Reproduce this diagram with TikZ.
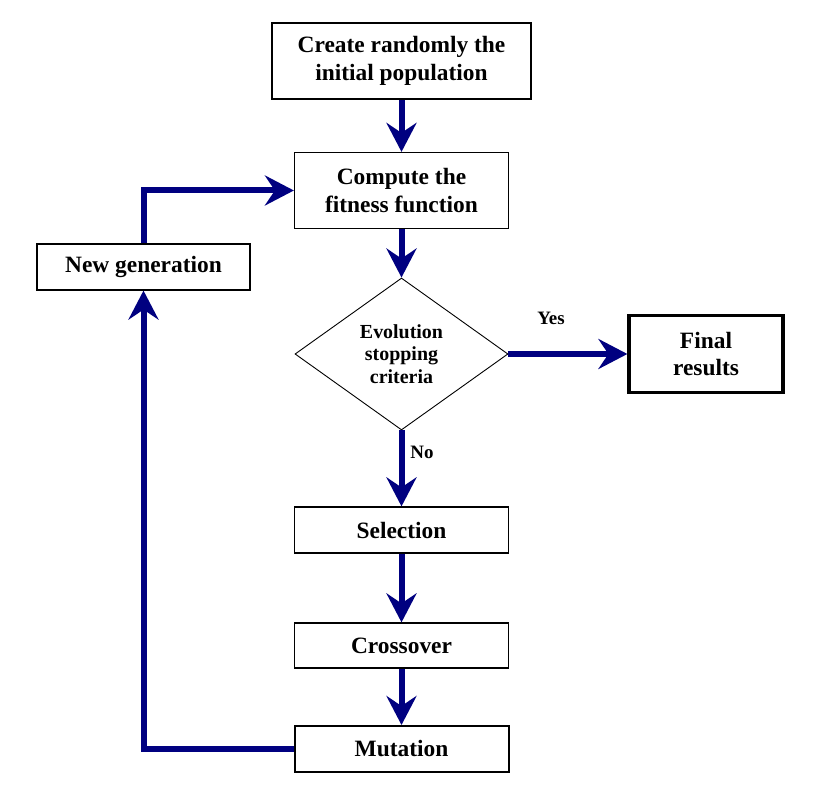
\documentclass[tikz,border=0pt]{standalone}
\usepackage{fontspec}
\setmainfont{Liberation Serif}
\usetikzlibrary{arrows.meta,shapes.geometric}
\definecolor{flownavy}{RGB}{0,0,128}
\begin{document}
\begin{tikzpicture}[>={Stealth[length=29bp,width=30bp,inset=10bp]},line join=miter,
  box/.style={draw,rectangle,line width=1.2bp,inner sep=0pt,align=center,font=\fontsize{23.5}{28}\selectfont\bfseries},
  decision/.style={draw,diamond,line width=0.9bp,inner sep=0pt,align=center,font=\fontsize{20}{22.5}\selectfont\bfseries},
  answer/.style={draw=none,inner sep=0pt,font=\fontsize{19}{22}\selectfont\bfseries},
  flow/.style={flownavy,line width=6bp,->}]
\useasboundingbox (0bp,0bp) rectangle (816bp,796bp);
%%
\node (node_create) at (401.5bp,735bp) [box,minimum width=259bp,minimum height=76bp] {Create randomly the\\initial population};
  \node (node_fitness) at (401.5bp,605.5bp) [box,minimum width=214bp,minimum height=76bp] {Compute the\\fitness function};
  \node (node_newgen) at (143.5bp,529bp) [box,minimum width=213bp,minimum height=46bp] {New generation};
  \node (node_criteria) at (401.5bp,442bp) [decision,minimum width=213bp,minimum height=152bp] {Evolution\\stopping\\criteria};
  \node (node_final) at (706bp,442bp) [box,line width=3.2bp,minimum width=154bp,minimum height=77bp] {Final\\results};
  \node (node_selection) at (401.5bp,266bp) [box,minimum width=214bp,minimum height=46bp] {Selection};
  \node (node_crossover) at (401.5bp,150.5bp) [box,minimum width=214bp,minimum height=45bp] {Crossover};
  \node (node_mutation) at (401.5bp,47bp) [box,line width=2bp,minimum width=214bp,minimum height=46bp] {Mutation};
  \node (node_yes) at (551bp,478bp) [answer] {Yes};
  \node (node_no) at (422bp,344bp) [answer] {No};
  \draw [flow] (node_create) -- (node_fitness);
  \draw [flow] (node_fitness) -- (node_criteria);
  \draw [flow] (node_criteria) -- (node_final);
  \draw [flow] (node_criteria) -- (node_selection);
  \draw [flow] (node_selection) -- (node_crossover);
  \draw [flow] (node_crossover) -- (node_mutation);
  \draw [flow] (node_mutation.west) -| (node_newgen.south);
  \draw [flow] (node_newgen.north) |- (node_fitness.west);
%
\end{tikzpicture}
\end{document}
